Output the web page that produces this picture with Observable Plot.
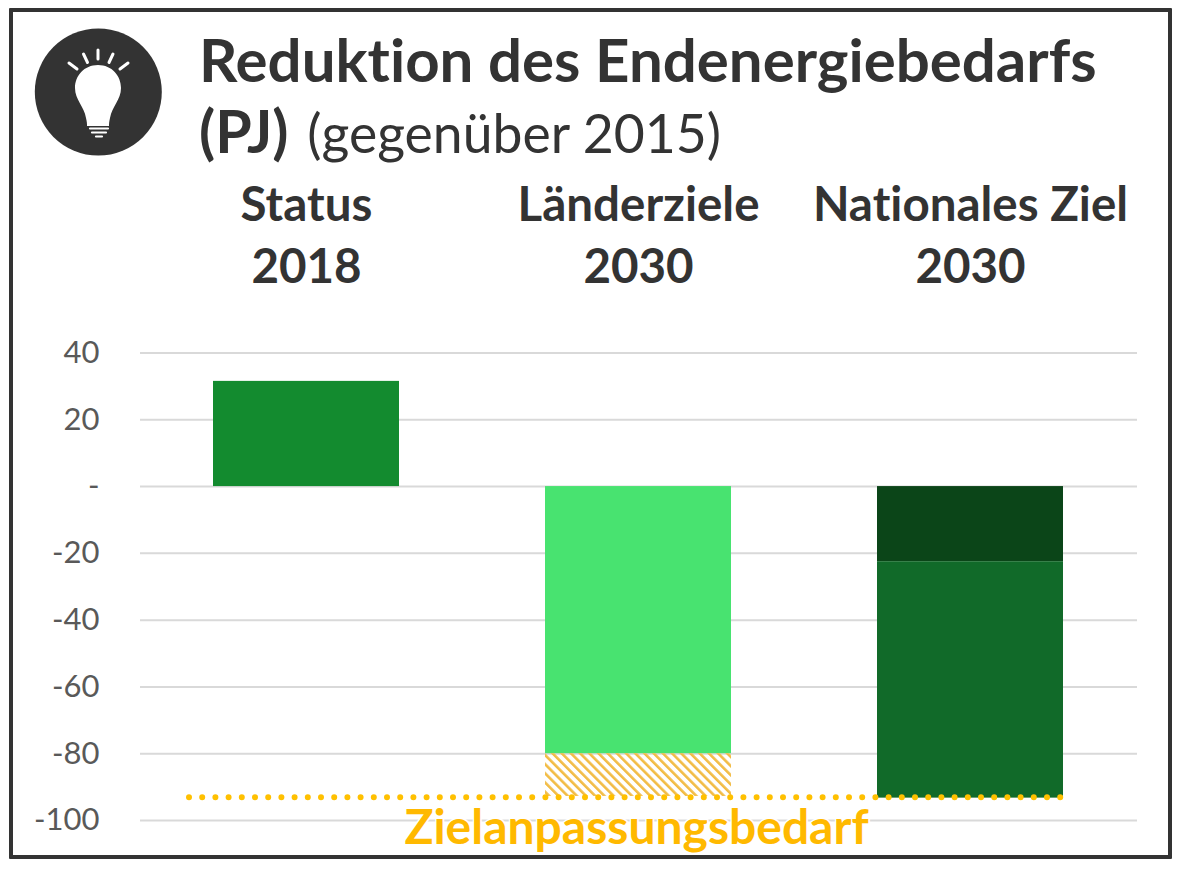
<!DOCTYPE html>
<html lang="de">
<head>
<meta charset="utf-8">
<script src="https://cdn.jsdelivr.net/npm/d3@7"></script>
<script src="https://cdn.jsdelivr.net/npm/@observablehq/plot@0.6"></script>
<style>
html,body{margin:0;padding:0;background:#fff}
#page{position:relative;width:1181px;height:869px;overflow:hidden;font-family:Lato,sans-serif;color:#333;font-variant-ligatures:none}
#frame{position:absolute;left:9px;top:8px;width:1155px;height:843px;border:4px solid #333;border-radius:1px}
#icon{position:absolute;left:34px;top:28px}
.t{position:absolute;white-space:nowrap}
#t1{left:199px;top:24px;font-size:60px;line-height:70px;font-weight:700}
#t2{left:199px;top:96px;font-size:53.5px;line-height:70px}
#t2 b{font-weight:700;font-size:59px}
#t2 span{margin-left:5px}
#chart{position:absolute;left:0;top:175px}
svg{overflow:visible}
svg text{font-variant-ligatures:none}
</style>
</head>
<body>
<div id="page">
  <div id="frame"></div>
  <svg id="icon" width="128" height="128" viewBox="0 0 128 128">
    <circle cx="64.3" cy="64" r="63.5" fill="#333"/>
    <path d="M64 37C50 37 41 48 41 60C41 72 50 78 52 90C53 94 53 96 53 98H75C75 96 75 94 76 90C78 78 87 72 87 60C87 48 78 37 64 37Z" fill="#fff"/>
    <path d="M56 100.500H74M58 104.500H72M62 108.500H68" stroke="#fff" stroke-width="2.200" stroke-linecap="round"/>
    <path d="M64 22V31M49.500 26L53.500 34.500M79 26L75 34.500M35 35L43 41M94 35L86 41" stroke="#fff" stroke-width="3" stroke-linecap="round"/>
  </svg>
  <div class="t" id="t1">Reduktion des Endenergiebedarfs</div>
  <div class="t" id="t2"><b>(PJ)</b> <span>(gegenüber 2015)</span></div>
  <div id="chart"></div>
</div>
<script>
const categories = ["Status\n2018", "Länderziele\n2030", "Nationales Ziel\n2030"];
const yTicks = [40, 20, 0, -20, -40, -60, -80, -100];
const barCategory = [categories[0], categories[1], categories[2], categories[2]];
const barFrom = [0, 0, 0, -22.5];
const barTo = [31.5, -80, -22.5, -93.3];
const barColor = ["#138B2F", "#48E370", "#0B4518", "#116A29"];
const gapCategory = [categories[1]];
const gapFrom = [-80];
const gapTo = [-92.8];
const targetValue = [-93];
const targetLabel = ["Zielanpassungsbedarf"];

const bars = barCategory.map((c, i) => ({c, y1: barFrom[i], y2: barTo[i], fill: barColor[i]}));
const gaps = gapCategory.map((c, i) => ({c, y1: gapFrom[i], y2: gapTo[i]}));

const hatch = () => {
  const ns = "http://www.w3.org/2000/svg";
  const defs = document.createElementNS(ns, "defs");
  const p = document.createElementNS(ns, "pattern");
  p.setAttribute("id", "hatch");
  p.setAttribute("patternUnits", "userSpaceOnUse");
  p.setAttribute("width", "6.5");
  p.setAttribute("height", "6.5");
  p.setAttribute("patternTransform", "rotate(-45)");
  const l = document.createElementNS(ns, "rect");
  l.setAttribute("width", "2.6");
  l.setAttribute("height", "6.5");
  l.setAttribute("fill", "#F2BC45");
  p.appendChild(l);
  defs.appendChild(p);
  return defs;
};

const chart = Plot.plot({
  width: 1181,
  height: 680,
  marginLeft: 140,
  marginRight: 44,
  marginTop: 0,
  marginBottom: 0,
  style: {background: "transparent", fontFamily: "Lato, sans-serif", overflow: "visible"},
  x: {domain: categories, range: [139, 1136], paddingInner: 0.44, paddingOuter: 0.22, align: 0.5, label: null},
  y: {domain: [40, -100], range: [177.5, 645], label: null},
  marks: [
    hatch,
    Plot.ruleY(yTicks, {stroke: "#d9d9d9", strokeWidth: 2}),
    Plot.axisY({ticks: yTicks, tickSize: 0, tickPadding: 41, anchor: "left", label: null,
      tickFormat: d => d === 0 ? "-" : String(d), fontSize: 31, fill: "#595959"}),
    Plot.axisX({anchor: "top", tickSize: 0, label: null, tickPadding: -107, fontSize: 47.5,
      fontWeight: 700, fill: "#333", lineHeight: 1.3}),
    Plot.barY(bars, {x: "c", y1: "y1", y2: "y2", fill: d => d.fill}),
    Plot.barY(gaps, {x: "c", y1: "y1", y2: "y2", fill: "url(#hatch)"}),
    Plot.ruleY(targetValue, {stroke: "#FFC000", strokeWidth: 6, strokeDasharray: "0 13.2",
      strokeLinecap: "round", insetLeft: 49, insetRight: 72}),
    Plot.text(targetLabel, {x: () => categories[1], y: () => -102.5, dx: -2, text: d => d, fontSize: 48,
      fontWeight: 700, fill: "#FFB900", stroke: "#fff", strokeWidth: 3, paintOrder: "stroke"})
  ]
});
document.getElementById("chart").appendChild(chart);
</script>
</body>
</html>
